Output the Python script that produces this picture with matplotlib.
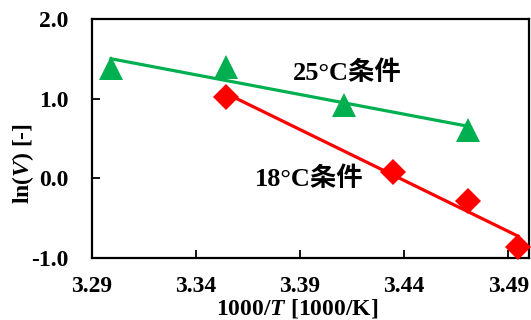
import numpy as np
import matplotlib
matplotlib.use('Agg')
import matplotlib.pyplot as plt

# Data
x_25 = [3.2991, 3.3544, 3.4112, 3.4708]
y_25 = [1.39, 1.40, 0.925, 0.61]
x_18 = [3.3544, 3.4347, 3.4708, 3.4948]
y_18 = [1.025, 0.08, -0.29, -0.86]

xticks = [3.29, 3.34, 3.39, 3.44, 3.49]
yticks = [-1.0, 0.0, 1.0, 2.0]

green = '#00B050'
red = '#FF0000'
fam = ['Liberation Serif', 'Noto Sans CJK JP']
plt.rcParams['font.family'] = fam
plt.rcParams['mathtext.fontset'] = 'custom'
plt.rcParams['mathtext.it'] = 'Liberation Serif:italic:bold'
plt.rcParams['mathtext.rm'] = 'Liberation Serif:bold'

fig = plt.figure(figsize=(5.31, 3.2), dpi=100)
ax = fig.add_axes([0.1733, 0.194, 0.823, 0.7469])

# Trend lines (least squares)
for xs, ys, c in [(x_25, y_25, green), (x_18, y_18, red)]:
    k, b = np.polyfit(xs, ys, 1)
    xx = np.array([min(xs), max(xs)])
    ax.plot(xx, k * xx + b, color=c, lw=2.3, zorder=2)

ax.plot(x_25, y_25, '^', color=green, ms=17, mew=0, clip_on=False, zorder=3)
ax.plot(x_18, y_18, 'D', color=red, ms=13.5, mew=0, clip_on=False, zorder=3)

ax.text(3.3866, 1.33, '25°C条件', fontsize=19, fontweight='bold', ha='left', va='center')
ax.text(3.3684, -0.01, '18°C条件', fontsize=19, fontweight='bold', ha='left', va='center')

ax.set_xlim(3.29, 3.5)
ax.set_ylim(-1.0, 2.0)
ax.set_xticks(xticks)
ax.set_xticklabels([f'{v:.2f}' for v in xticks])
ax.set_yticks(yticks)
ax.set_yticklabels([f'{v:.1f}' for v in yticks])
ax.tick_params(direction='in', length=6, width=1.3, labelsize=17)
ax.tick_params(axis='x', pad=13)
ax.tick_params(axis='y', pad=17)
for lab in ax.get_xticklabels() + ax.get_yticklabels():
    lab.set_fontweight('bold')
for s in ax.spines.values():
    s.set_linewidth(1.6)

ax.set_xlabel(r'1000/$T$ [1000/K]', fontsize=17, fontweight='bold')
ax.set_ylabel(r'ln($V$) [-]', fontsize=17, fontweight='bold')
ax.xaxis.set_label_coords(0.469, -0.163)
ax.yaxis.set_label_coords(-0.128, 0.397)

fig.savefig('out.png', dpi=100)
